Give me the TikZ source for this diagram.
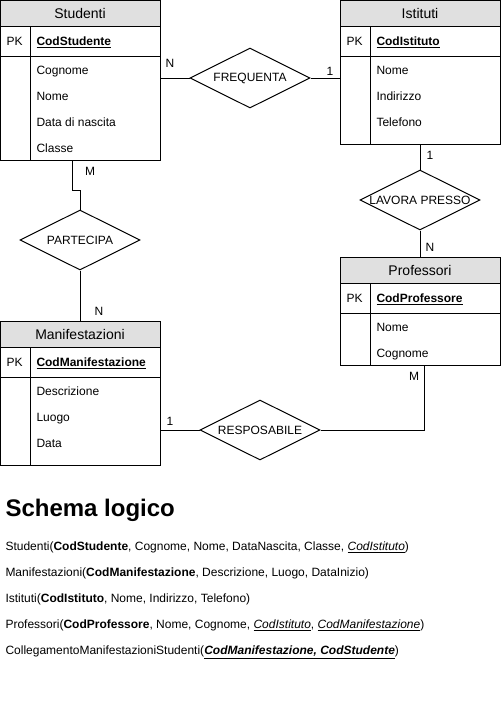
\documentclass[tikz,border=0pt]{standalone}
\usepackage{fontspec}
\setmainfont{Liberation Sans}
\usetikzlibrary{shapes.geometric}
\definecolor{headgray}{HTML}{E0E0E0}

\newcommand{\tabella}[7]{%
  \node[minimum width=160, minimum height=#7, inner sep=0, outer sep=0, anchor=north west] (#1) at (#2,#3) {};
  \fill[headgray] (#2,#3) rectangle ++(160,26);
  \draw (#2,#3) rectangle ++(160,#7);
  \draw (#2,#3+26) -- ++(160,0);
  \draw (#2,#3+56) -- ++(160,0);
  \draw (#2+30,#3+26) -- (#2+30,#3+#7);
  \node[testo, anchor=base, font=\fontsize{14}{16}\selectfont] (#1-tit) at (#2+80,#3+18) {#4};
  \node[testo] (#1-pk) at (#2+6,#3+45.3) {PK};
  \node[testo] (#1-cod) at (#2+36,#3+45.3) {\textbf{\underline{#5}}};
  \foreach \a [count=\i] in {#6}
    \node[testo] (#1-\i) at (#2+36,#3+48.3+26*\i) {\a};
}

\begin{document}
\begin{tikzpicture}[x=1pt,y=-1pt,line width=1pt,
  every node/.style={font=\fontsize{12}{14}\selectfont},
  testo/.style={anchor=base west,inner sep=0},
  relazione/.style={draw,diamond,aspect=2,minimum width=120,minimum height=60,inner sep=0}]
\useasboundingbox (0,0) rectangle (501,721);

\tabella{stud}{0}{0}{Studenti}{CodStudente}{Cognome,Nome,Data di nascita,Classe}{160}
\tabella{ist}{340}{0}{Istituti}{CodIstituto}{Nome,Indirizzo,Telefono}{144}
\tabella{prof}{340}{257}{Professori}{CodProfessore}{Nome,Cognome}{108}
\tabella{man}{0}{321}{Manifestazioni}{CodManifestazione}{Descrizione,Luogo,Data}{144}

\node[relazione] (freq) at (250,78) {};
\node (freq-t) at (freq) {FREQUENTA};
\node[relazione] (lav) at (420,200) {};
\node (lav-t) at (lav) {LAVORA PRESSO};
\node[relazione] (part) at (80,240) {};
\node (part-t) at (part) {PARTECIPA};
\node[relazione] (resp) at (260,430) {};
\node (resp-t) at (resp) {RESPOSABILE};

\draw (freq.west -| stud.east) -- (freq.west);
\draw (freq.east) -- (freq.east -| ist.west);
\draw (ist.south) -- (lav.north);
\draw (lav.south) -- (prof.north);
\draw ([xshift=-8pt]stud.south) -- ++(0,30) -| (part.north);
\draw (part.south) -- (man.north);
\draw (resp.west -| man.east) -- (resp.west);
\draw (resp.east) -| ([xshift=4pt]prof.south);

\node (c1) at (170,63) {N};
\node (c2) at (330,71) {1};
\node (c3) at (430,155) {1};
\node (c4) at (430,247) {N};
\node (c5) at (90,171) {M};
\node (c6) at (99,311) {N};
\node (c7) at (170,421) {1};
\node (c8) at (414,376) {M};

\node[testo,font=\bfseries\fontsize{24}{28}\selectfont] (titolo) at (5,516) {Schema logico};
\node[testo] (s1) at (5,550.7) {Studenti(\textbf{CodStudente}, Cognome, Nome, DataNascita, Classe, \underline{\textit{CodIstituto}})};
\node[testo] (s2) at (5,576.7) {Manifestazioni(\textbf{CodManifestazione}, Descrizione, Luogo, DataInizio)};
\node[testo] (s3) at (5,602.7) {Istituti(\textbf{CodIstituto}, Nome, Indirizzo, Telefono)};
\node[testo] (s4) at (5,628.7) {Professori(\textbf{CodProfessore}, Nome, Cognome, \underline{\textit{CodIstituto}}, \underline{\textit{CodManifestazione}})};
\node[testo] (s5) at (5,654.7) {CollegamentoManifestazioniStudenti(\underline{\textbf{\textit{CodManifestazione, CodStudente}}})};
\end{tikzpicture}
\end{document}
